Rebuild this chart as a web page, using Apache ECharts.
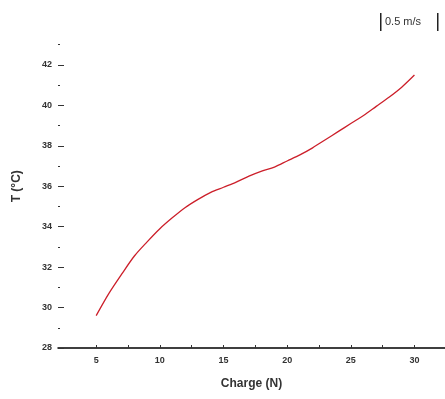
<!DOCTYPE html>
<html><head><meta charset="utf-8">
<script src="https://cdn.jsdelivr.net/npm/echarts@6/dist/echarts.min.js"></script>
<style>html,body{margin:0;padding:0;background:#fff}#c{width:445px;height:399px}</style>
</head><body><div id="c"></div>
<script>
const charge = [5,6,7,8,9,10,11,12,13,14,15,16,17,18,19,20,21,22,23,24,25,26,27,28,29,30];
const temp = [29.6,30.7,31.65,32.55,33.25,33.9,34.45,34.95,35.35,35.7,35.95,36.2,36.5,36.75,36.95,37.25,37.55,37.9,38.3,38.7,39.1,39.5,39.95,40.4,40.9,41.5];
const xTicks = [5,10,15,20,25,30];
const xMinorTicks = [5,7.5,10,12.5,15,17.5,20,22.5,25,27.5,30];
const yTicks = [28,30,32,34,36,38,40,42];
const seriesName = '0.5 m/s';

const chart = echarts.init(document.getElementById('c'));
const font = 'Liberation Sans, Arial, sans-serif';
chart.setOption({
  animation:false,
  backgroundColor:'#fff',
  grid:{left:58,right:0,top:24.5,bottom:51,containLabel:false},
  graphic:[
    {type:'text',left:385,top:16,style:{text:seriesName,font:'11px '+font,fill:'#333'}},
    {type:'rect',shape:{x:380,y:13,width:1.5,height:18},style:{fill:'#222'}},
    {type:'rect',shape:{x:437,y:13,width:1.5,height:18},style:{fill:'#222'}}
  ],
  xAxis:{type:'value',min:2,max:32.4,
    name:'Charge (N)',nameLocation:'middle',nameGap:30,
    nameTextStyle:{fontFamily:font,fontSize:12,fontWeight:'bold',color:'#333'},
    axisLine:{lineStyle:{color:'#000',width:1.5}},
    axisTick:{show:true,inside:true,length:3,customValues:xMinorTicks,lineStyle:{color:'#333'}},
    axisLabel:{customValues:xTicks,fontFamily:font,fontSize:9,fontWeight:'bold',color:'#333',margin:8},
    splitLine:{show:false}},
  yAxis:{type:'value',min:28,max:44,interval:2,
    name:'T (°C)',nameLocation:'middle',nameGap:35,nameRotate:90,
    nameTextStyle:{fontFamily:font,fontSize:12,fontWeight:'bold',color:'#333'},
    axisLine:{show:false},
    axisTick:{show:true,inside:true,length:6,customValues:yTicks,lineStyle:{color:'#333'}},
    minorTick:{show:true,splitNumber:2,length:2,lineStyle:{color:'#333'}},
    axisLabel:{customValues:yTicks,fontFamily:font,fontSize:9,fontWeight:'bold',color:'#333',margin:6},
    splitLine:{show:false}},
  series:[{name:seriesName,type:'line',smooth:0.3,showSymbol:false,
    data:charge.map((c,i)=>[c,temp[i]]),
    lineStyle:{color:'#cc1f2a',width:1.3}}]
});
</script></body></html>
